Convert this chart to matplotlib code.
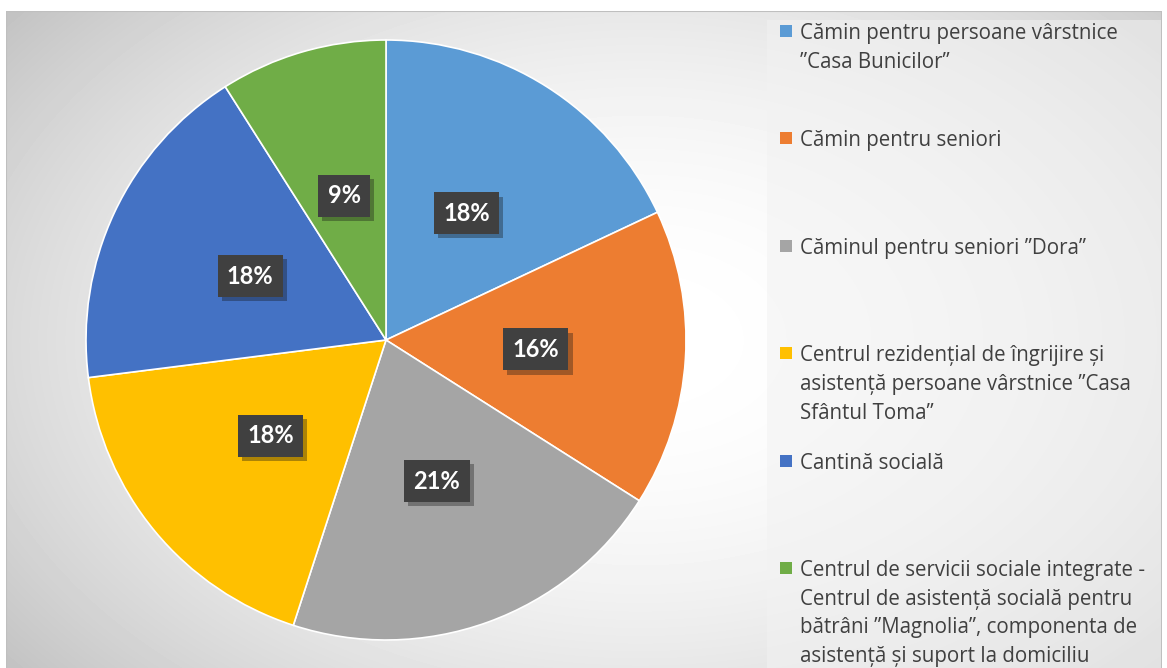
import numpy as np
import matplotlib
matplotlib.use("Agg")
import matplotlib.pyplot as plt
import matplotlib.patches as mpatches
import matplotlib.patheffects as pe

plt.rcParams['font.family'] = ['Open Sans', 'DejaVu Sans']

labels = [
    "Cămin pentru persoane vârstnice\n”Casa Bunicilor”",
    "Cămin pentru seniori",
    "Căminul pentru seniori ”Dora”",
    "Centrul rezidențial de îngrijire și\nasistență persoane vârstnice ”Casa\nSfântul Toma”",
    "Cantină socială",
    "Centrul de servicii sociale integrate -\nCentrul de asistență socială pentru\nbătrâni ”Magnolia”, componenta de\nasistență și suport la domiciliu",
]
shares = [18, 16, 21, 18, 18, 9]
colors = ['#5B9BD5', '#ED7D31', '#A5A5A5', '#FFC000', '#4472C4', '#70AD47']

W, H = 1167, 668
fig = plt.figure(figsize=(W / 100, H / 100), dpi=100)

def fx(x):
    return x / W

def fy(y):
    return 1 - y / H

# background: radial grey gradient
bg = fig.add_axes([fx(6), 0, fx(1162) - fx(6), fy(11)])
xs = np.arange(6, 1162)
ys = np.arange(11, 668)
gx, gy = np.meshgrid(xs, ys)
d2 = ((gx - 640) / 640.0) ** 2 + ((gy - 340) / 420.0) ** 2
val = np.clip(1 - 0.15 * d2, 0, 1)
bg.imshow(val, cmap='gray', vmin=0, vmax=1, aspect='auto', interpolation='bilinear')
bg.set_axis_off()
bg.add_patch(mpatches.Rectangle((-0.5, -0.5), 1156, 700, fill=False,
                                edgecolor='#bfbfbf', linewidth=1.5))

# legend panel
fig.patches.append(mpatches.Rectangle((fx(767), 0), fx(1161) - fx(767), fy(20),
                                      transform=fig.transFigure, facecolor='#f2f2f2',
                                      alpha=0.55, edgecolor='none', zorder=1))

ax = fig.add_axes([fx(86), fy(640), 600 / W, 600 / H])
wedges, texts, autotexts = ax.pie(
    shares, colors=colors, startangle=90, counterclock=False,
    autopct='%1.0f%%', pctdistance=0.5, radius=1,
    wedgeprops=dict(edgecolor='white', linewidth=1.2))
ax.set_xlim(-1, 1)
ax.set_ylim(-1, 1)
ax.set_aspect('equal')
ax.set_axis_off()

for t in autotexts:
    t.set_color('white')
    t.set_fontsize(17)
    t.set_fontweight('bold')
    t.set_family(['Lato', 'DejaVu Sans'])
    t.set_bbox(dict(boxstyle='square,pad=0.4', facecolor='#404040', edgecolor='none'))
    t.get_bbox_patch().set_path_effects(
        [pe.SimplePatchShadow(offset=(3, -3), alpha=0.35), pe.Normal()])

# legend entries
for i, (lab, col) in enumerate(zip(labels, colors)):
    mid = 31 + 107.4 * i
    fig.patches.append(mpatches.Rectangle((fx(780), fy(mid + 6)), fx(12), 12 / H,
                                          transform=fig.transFigure, facecolor=col,
                                          edgecolor='none', zorder=3))
    fig.text(fx(800), fy(mid - 8), lab, fontsize=14.8, color='#404040',
             va='top', ha='left', linespacing=1.48, zorder=3)

fig.savefig('out.png', dpi=100)
